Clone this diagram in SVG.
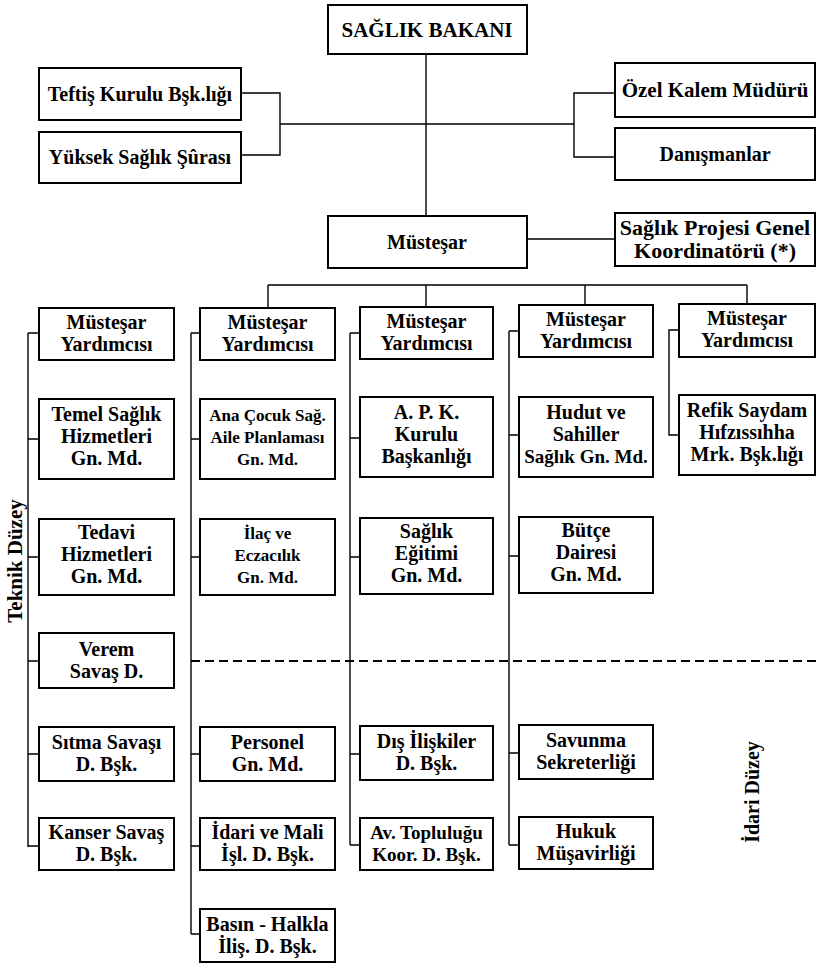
<svg xmlns="http://www.w3.org/2000/svg" width="816" height="964" viewBox="0 0 816 964">
<style>
rect.b{fill:#fff;stroke:#000;stroke-width:2}
text{font-family:"Liberation Serif","Times New Roman",serif;font-weight:bold;font-size:20px;text-anchor:middle;fill:#000}
text.s{font-size:17px}
text.m{font-size:19px}
text.l{font-size:21px}
text.xl{font-size:22px}
.c{stroke:#000;stroke-width:1.4;fill:none}
.d{stroke:#000;stroke-width:2;fill:none;stroke-dasharray:9 5}
</style>
<rect width="816" height="964" fill="#fff"/>
<g id="connectors">
<path class="c" d="M426 54V216"/>
<path class="c" d="M241 93H280V155H241M280 124H574M615 93H574V157H615"/>
<path class="c" d="M527 239H615"/>
<path class="c" d="M268 285H747M268 285V308M426 285V307M585 285V305M747 285V304"/>
<path class="c" d="M28 333V847M28 333H39M28 439H39M28 557H39M28 661H39M28 754H39M28 846H39"/>
<path class="c" d="M191 333V934M191 333H200M191 439H200M191 557H200M191 754H200M191 846H200M191 934H200"/>
<path class="c" d="M350 333V845M350 333H360M350 438H360M350 557H360M350 754H360M350 845H360"/>
<path class="c" d="M509 331V845M509 331H519M509 435H519M509 556H519M509 753H519M509 845H519"/>
<path class="c" d="M679 330H669V435H679"/>
<path class="d" d="M191 661H816"/>
</g>
<g id="n-bakan"><rect class="b" x="328" y="5" width="199" height="49"/><text class="l" x="427" y="37">SAĞLIK BAKANI</text></g>
<g id="n-teftis"><rect class="b" x="39" y="68" width="202" height="52"/><text x="140" y="101">Teftiş Kurulu Bşk.lığı</text></g>
<g id="n-yuksek"><rect class="b" x="39" y="132" width="202" height="51"/><text x="140" y="164">Yüksek Sağlık Şûrası</text></g>
<g id="n-ozel"><rect class="b" x="615" y="63" width="200" height="54"/><text class="l" x="715" y="97">Özel Kalem Müdürü</text></g>
<g id="n-danis"><rect class="b" x="615" y="128" width="200" height="52"/><text x="715" y="161">Danışmanlar</text></g>
<g id="n-mustesar"><rect class="b" x="328" y="216" width="199" height="52"/><text x="427" y="249">Müsteşar</text></g>
<g id="n-proje"><rect class="b" x="615" y="213" width="200" height="53"/><text class="xl" x="715" y="235">Sağlık Projesi Genel</text><text class="xl" x="715" y="258">Koordinatörü (*)</text></g>

<g id="n-my1"><rect class="b" x="39" y="308" width="135" height="52"/><text x="106.5" y="329">Müsteşar</text><text x="106.5" y="351">Yardımcısı</text></g>
<g id="n-temel"><rect class="b" x="39" y="399" width="135" height="80"/><text x="106.5" y="421">Temel Sağlık</text><text x="106.5" y="443">Hizmetleri</text><text x="106.5" y="465">Gn. Md.</text></g>
<g id="n-tedavi"><rect class="b" x="39" y="519" width="135" height="76"/><text x="106.5" y="539">Tedavi</text><text x="106.5" y="561">Hizmetleri</text><text x="106.5" y="583">Gn. Md.</text></g>
<g id="n-verem"><rect class="b" x="39" y="633" width="135" height="55"/><text x="106.5" y="656">Verem</text><text x="106.5" y="678">Savaş D.</text></g>
<g id="n-sitma"><rect class="b" x="39" y="727" width="135" height="54"/><text x="106.5" y="749">Sıtma  Savaşı</text><text x="106.5" y="771">D. Bşk.</text></g>
<g id="n-kanser"><rect class="b" x="39" y="818" width="135" height="52"/><text x="106.5" y="839">Kanser Savaş</text><text x="106.5" y="861">D. Bşk.</text></g>

<g id="n-my2"><rect class="b" x="200" y="308" width="135" height="52"/><text x="267.5" y="329">Müsteşar</text><text x="267.5" y="351">Yardımcısı</text></g>
<g id="n-anacocuk"><rect class="b" x="200" y="399" width="135" height="80"/><text class="s" x="267.5" y="421">Ana Çocuk Sağ.</text><text class="s" x="267.5" y="443">Aile Planlaması</text><text class="s" x="267.5" y="465">Gn. Md.</text></g>
<g id="n-ilac"><rect class="b" x="200" y="519" width="135" height="76"/><text class="s" x="267.5" y="539">İlaç ve</text><text class="s" x="267.5" y="561">Eczacılık</text><text class="s" x="267.5" y="583">Gn. Md.</text></g>
<g id="n-personel"><rect class="b" x="200" y="727" width="135" height="54"/><text x="267.5" y="749">Personel</text><text x="267.5" y="771">Gn. Md.</text></g>
<g id="n-idari"><rect class="b" x="200" y="818" width="135" height="52"/><text x="267.5" y="839">İdari ve Mali</text><text x="267.5" y="861">İşl. D. Bşk.</text></g>
<g id="n-basin"><rect class="b" x="200" y="909" width="135" height="53"/><text x="267.5" y="931">Basın - Halkla</text><text x="267.5" y="953">İliş. D. Bşk.</text></g>

<g id="n-my3"><rect class="b" x="360" y="307" width="133" height="52"/><text x="426.5" y="328">Müsteşar</text><text x="426.5" y="350">Yardımcısı</text></g>
<g id="n-apk"><rect class="b" x="360" y="397" width="133" height="80"/><text x="426.5" y="419">A. P. K.</text><text x="426.5" y="441">Kurulu</text><text x="426.5" y="463">Başkanlığı</text></g>
<g id="n-egitim"><rect class="b" x="360" y="518" width="133" height="76"/><text x="426.5" y="538">Sağlık</text><text x="426.5" y="560">Eğitimi</text><text x="426.5" y="582">Gn. Md.</text></g>
<g id="n-dis"><rect class="b" x="360" y="726" width="133" height="54"/><text x="426.5" y="748">Dış İlişkiler</text><text x="426.5" y="770">D. Bşk.</text></g>
<g id="n-av"><rect class="b" x="360" y="818" width="133" height="52"/><text class="m" x="426.5" y="839">Av. Topluluğu</text><text class="m" x="426.5" y="861">Koor. D. Bşk.</text></g>

<g id="n-my4"><rect class="b" x="519" y="305" width="134" height="52"/><text x="586" y="326">Müsteşar</text><text x="586" y="348">Yardımcısı</text></g>
<g id="n-hudut"><rect class="b" x="519" y="397" width="134" height="80"/><text x="586" y="419">Hudut ve</text><text x="586" y="441">Sahiller</text><text class="m" x="586" y="463">Sağlık Gn. Md.</text></g>
<g id="n-butce"><rect class="b" x="519" y="517" width="134" height="76"/><text x="586" y="537">Bütçe</text><text x="586" y="559">Dairesi</text><text x="586" y="581">Gn. Md.</text></g>
<g id="n-savunma"><rect class="b" x="519" y="725" width="134" height="54"/><text x="586" y="747">Savunma</text><text x="586" y="769">Sekreterliği</text></g>
<g id="n-hukuk"><rect class="b" x="519" y="817" width="134" height="52"/><text x="586" y="838">Hukuk</text><text x="586" y="860">Müşavirliği</text></g>

<g id="n-my5"><rect class="b" x="679" y="304" width="136" height="53"/><text x="747" y="325">Müsteşar</text><text x="747" y="347">Yardımcısı</text></g>
<g id="n-refik"><rect class="b" x="679" y="395" width="136" height="80"/><text x="747" y="417">Refik Saydam</text><text x="747" y="439">Hıfzıssıhha</text><text x="747" y="461">Mrk. Bşk.lığı</text></g>

<text x="0" y="0" transform="translate(22 561) rotate(-90)" style="font-size:21px">Teknik Düzey</text>
<text x="0" y="0" transform="translate(759 792) rotate(-90)" style="font-size:20px">İdari Düzey</text>
</svg>
